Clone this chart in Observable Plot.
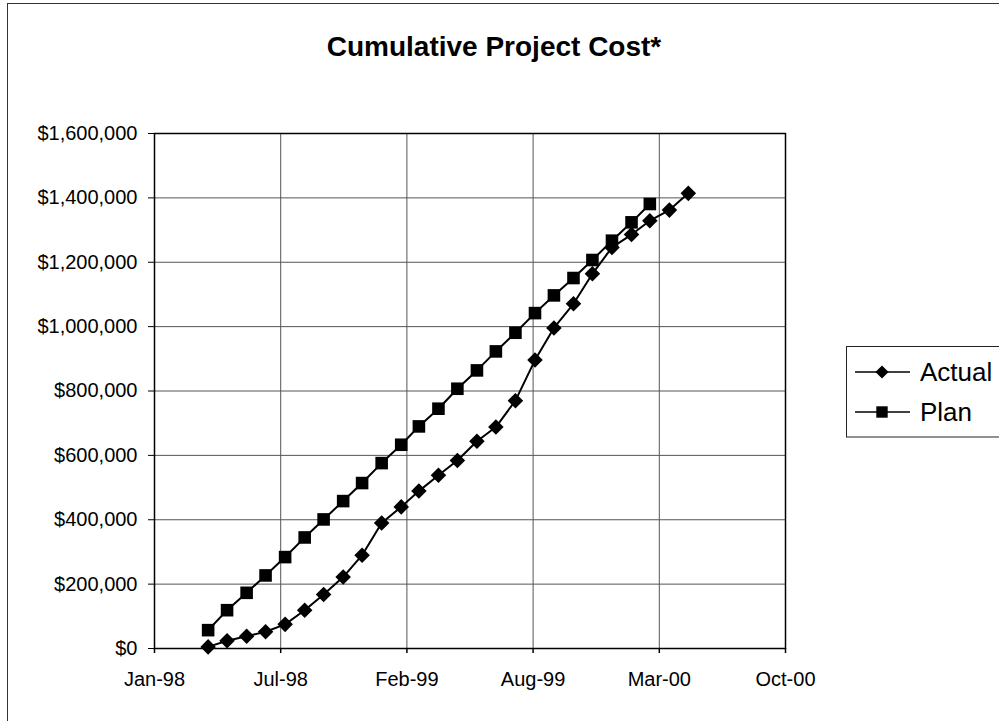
<!DOCTYPE html>
<html>
<head>
<meta charset="utf-8">
<script src="https://cdn.jsdelivr.net/npm/d3@7"></script>
<script src="https://cdn.jsdelivr.net/npm/@observablehq/plot@0.6"></script>
<style>
  html, body { margin: 0; padding: 0; background: #fff; overflow: hidden; }
  #wrap { position: relative; width: 999px; height: 721px; overflow: hidden; font-family: "Liberation Sans", Arial, sans-serif; }
  #chart { position: absolute; left: 0; top: 0; }
  #border { position: absolute; left: 7px; top: 3px; width: 1100px; height: 800px; border-left: 1px solid #333; border-top: 1px solid #333; pointer-events: none; }
  #title { position: absolute; left: 0; top: 33px; width: 988px; text-align: center; font-weight: bold; font-size: 28px; line-height: 28px; color: #000; }
  #legend { position: absolute; left: 846px; top: 346px; }
</style>
</head>
<body>
<div id="wrap">
  <div id="chart"></div>
  <div id="border"></div>
  <div id="title">Cumulative Project Cost*</div>
  <svg id="legend" width="153" height="92"></svg>
</div>
<script>
// ---- data ----
const actualDates = ["1998-03-31","1998-04-30","1998-05-31","1998-06-30","1998-07-31","1998-08-31","1998-09-30","1998-10-31","1998-11-30","1998-12-31","1999-01-31","1999-02-28","1999-03-31","1999-04-30","1999-05-31","1999-06-30","1999-07-31","1999-08-31","1999-09-30","1999-10-31","1999-11-30","1999-12-31","2000-01-31","2000-02-29","2000-03-31","2000-04-30"];
const actualValues = [5000, 24000, 38000, 52000, 75000, 119000, 168000, 222000, 290000, 390000, 440000, 489000, 538000, 584000, 644000, 688000, 770000, 896000, 996000, 1071000, 1164000, 1246000, 1286000, 1329000, 1362000, 1414000];
const planDates = ["1998-03-31","1998-04-30","1998-05-31","1998-06-30","1998-07-31","1998-08-31","1998-09-30","1998-10-31","1998-11-30","1998-12-31","1999-01-31","1999-02-28","1999-03-31","1999-04-30","1999-05-31","1999-06-30","1999-07-31","1999-08-31","1999-09-30","1999-10-31","1999-11-30","1999-12-31","2000-01-31","2000-02-29"];
const planValues = [57000, 119000, 173000, 227000, 284000, 345000, 401000, 458000, 514000, 576000, 633000, 690000, 745000, 807000, 864000, 923000, 981000, 1042000, 1097000, 1151000, 1207000, 1267000, 1324000, 1381000];
const xTickDates = ["1998-01-05","1998-07-24","1999-02-09","1999-08-28","2000-03-15","2000-10-01"];
const yTickValues = [0, 200000, 400000, 600000, 800000, 1000000, 1200000, 1400000, 1600000];
const seriesNames = ["Actual", "Plan"];

// ---- build tables ----
const actual = actualDates.map((d, i) => ({date: new Date(d), value: actualValues[i]}));
const plan = planDates.map((d, i) => ({date: new Date(d), value: planValues[i]}));
const xTicks = xTickDates.map(d => new Date(d));

const chart = Plot.plot({
  width: 999,
  height: 721,
  marginLeft: 154,
  marginRight: 214,
  marginTop: 133,
  marginBottom: 73,
  style: {fontFamily: '"Liberation Sans", Arial, sans-serif', fontSize: "20px", color: "#000", background: "transparent"},
  x: {type: "utc", domain: [xTicks[0], xTicks[xTicks.length - 1]]},
  y: {domain: [0, 1600000]},
  marks: [
    Plot.ruleX(xTicks, {stroke: "#555", strokeWidth: 1}),
    Plot.ruleY(yTickValues, {stroke: "#555", strokeWidth: 1}),
    Plot.frame({stroke: "#000", strokeWidth: 1.5}),
    Plot.axisX({ticks: xTicks, tickFormat: d3.utcFormat("%b-%y"), tickSize: 5, tickPadding: 18, label: null, stroke: "#000", strokeWidth: 1.5}),
    Plot.axisY({ticks: yTickValues, tickFormat: d3.format("$,.0f"), tickSize: 6, tickPadding: 11, label: null, stroke: "#000"}),
    Plot.line(plan, {x: "date", y: "value", stroke: "#000", strokeWidth: 2}),
    Plot.line(actual, {x: "date", y: "value", stroke: "#000", strokeWidth: 2}),
    Plot.dot(plan, {x: "date", y: "value", symbol: "square", fill: "#000", stroke: "none", r: 7.1}),
    Plot.dot(actual, {x: "date", y: "value", symbol: "diamond2", fill: "#000", stroke: "none", r: 7})
  ]
});
document.getElementById("chart").appendChild(chart);

// ---- legend ----
const lg = d3.select("#legend");
lg.append("rect").attr("x", 0.5).attr("y", 0.5).attr("width", 170).attr("height", 90.5)
  .attr("fill", "#fff").attr("stroke", "#222").attr("stroke-width", 1);
const rows = [26, 66];
seriesNames.forEach((name, i) => {
  const y = rows[i];
  lg.append("line").attr("x1", 9).attr("x2", 64).attr("y1", y).attr("y2", y).attr("stroke", "#000").attr("stroke-width", 1.5);
  const sym = i === 0 ? d3.symbolDiamond2 : d3.symbolSquare;
  const size = i === 0 ? 110 : 130;
  lg.append("path").attr("d", d3.symbol(sym, size)()).attr("transform", `translate(36,${y})`).attr("fill", "#000");
  lg.append("text").attr("x", 74).attr("y", y).attr("dy", "0.36em")
    .attr("font-family", '"Liberation Sans", Arial, sans-serif').attr("font-size", 26).attr("fill", "#000").text(name);
});
</script>
</body>
</html>
